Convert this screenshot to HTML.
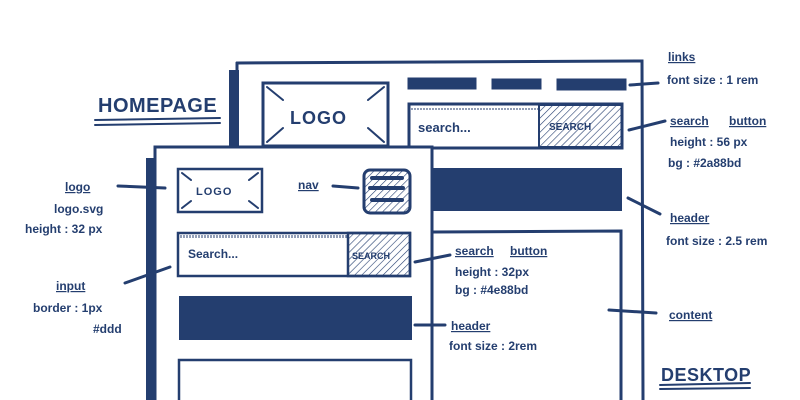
<!DOCTYPE html>
<html><head><meta charset="utf-8"><style>
html,body{margin:0;padding:0;background:#fff;}
svg{display:block}
text{font-family:"Liberation Sans",sans-serif;fill:#243e6f;}
</style></head><body>
<svg width="800" height="400" viewBox="0 0 800 400" xmlns="http://www.w3.org/2000/svg">
<defs>
<pattern id="h" width="5" height="5" patternUnits="userSpaceOnUse" patternTransform="rotate(45)">
<line x1="0" y1="0" x2="0" y2="5" stroke="#243e6f" stroke-width="1.2"/>
</pattern>
<pattern id="t" width="3" height="6" patternUnits="userSpaceOnUse">
<line x1="1" y1="0" x2="1" y2="4" stroke="#243e6f" stroke-width="1"/>
</pattern>
</defs>
<g stroke="#243e6f" fill="none" stroke-width="3" stroke-linecap="round">
<!-- desktop frame -->
<rect x="229" y="70" width="10" height="80" fill="#243e6f" stroke="none"/>
<path d="M237 63 L642 61 L643 400"/>
<path d="M237 63 L237 150"/>
<rect x="263" y="83" width="125" height="63"/>
<path d="M267 87 L283 100 M384 87 L368 100 M267 142 L283 128 M384 142 L368 128" stroke-width="2"/>
<rect x="409" y="79" width="66" height="9" fill="#243e6f"/>
<rect x="493" y="80" width="47" height="8" fill="#243e6f"/>
<rect x="558" y="80" width="67" height="9" fill="#243e6f"/>
<rect x="409" y="104" width="213" height="44"/>
<rect x="411" y="106" width="128" height="4" fill="url(#t)" stroke="none"/>
<rect x="539" y="105" width="83" height="42" fill="url(#h)" stroke-width="2"/>
<rect x="430" y="168" width="192" height="43" fill="#243e6f" stroke="none"/>
<path d="M433 232 L621 231 L621 400"/>
<!-- mobile frame -->
<rect x="146" y="158" width="11" height="242" fill="#243e6f" stroke="none"/>
<rect x="155" y="147" width="277" height="260" fill="#fff"/>
<rect x="178" y="169" width="84" height="43" stroke-width="2.5"/>
<path d="M182 173 L191 180 M258 173 L249 180 M182 208 L191 201 M258 208 L249 201" stroke-width="2"/>
<rect x="364" y="170" width="46" height="43" rx="6" fill="url(#h)"/>
<path d="M372 178 L402 178 M370 188 L403 188 M372 200 L402 200" stroke-width="4"/>
<rect x="178" y="233" width="232" height="43" stroke-width="2.5"/>
<rect x="180" y="235" width="168" height="4" fill="url(#t)" stroke="none"/>
<rect x="348" y="233" width="62" height="43" fill="url(#h)" stroke-width="2.5"/>
<rect x="179" y="296" width="233" height="44" fill="#243e6f" stroke="none"/>
<path d="M179 400 L179 360 L411 360 L411 400" stroke-width="2.5"/>
<!-- connectors -->
<path d="M118 186 L165 188"/>
<path d="M333 186 L358 188"/>
<path d="M125 283 L170 267"/>
<path d="M415 262 L450 255"/>
<path d="M415 325 L445 325"/>
<path d="M630 85 L658 83"/>
<path d="M629 130 L665 121"/>
<path d="M628 198 L660 214"/>
<path d="M609 310 L656 313"/>
<!-- underlines -->
<path d="M95 120 L220 118 M95 125 L220 123" stroke-width="2"/>
<path d="M660 385 L750 383 M660 389 L750 388" stroke-width="2"/>
</g>
<g font-weight="bold">
<text x="290" y="124" font-size="18" letter-spacing="1">LOGO</text>
<text x="196" y="195" font-size="11" letter-spacing="1">LOGO</text>
</g>
<g font-size="12" font-weight="bold">
<text x="98" y="112" font-size="20" letter-spacing="0.5" font-weight="bold">HOMEPAGE</text>
<text x="661" y="381" font-size="18" letter-spacing="0.5">DESKTOP</text>
<text x="418" y="132" font-size="13">search...</text>
<text x="188" y="258" font-size="12">Search...</text>
<text x="549" y="130" font-size="10">SEARCH</text>
<text x="352" y="259" font-size="9">SEARCH</text>
<text x="298" y="189" text-decoration="underline">nav</text>
<text x="65" y="191" text-decoration="underline">logo</text>
<text x="54" y="213">logo.svg</text>
<text x="25" y="233">height : 32 px</text>
<text x="56" y="290" text-decoration="underline">input</text>
<text x="33" y="312">border : 1px</text>
<text x="93" y="333">#ddd</text>
<text x="455" y="255" text-decoration="underline">search</text>
<text x="510" y="255" text-decoration="underline">button</text>
<text x="455" y="276">height : 32px</text>
<text x="455" y="294">bg : #4e88bd</text>
<text x="451" y="330" text-decoration="underline">header</text>
<text x="449" y="350">font size : 2rem</text>
<text x="668" y="61" text-decoration="underline">links</text>
<text x="667" y="84">font size : 1 rem</text>
<text x="670" y="125" text-decoration="underline">search</text>
<text x="729" y="125" text-decoration="underline">button</text>
<text x="670" y="146">height : 56 px</text>
<text x="668" y="167">bg : #2a88bd</text>
<text x="670" y="222" text-decoration="underline">header</text>
<text x="666" y="245">font size : 2.5 rem</text>
<text x="669" y="319" text-decoration="underline">content</text>
</g>
</svg>
</body></html>
